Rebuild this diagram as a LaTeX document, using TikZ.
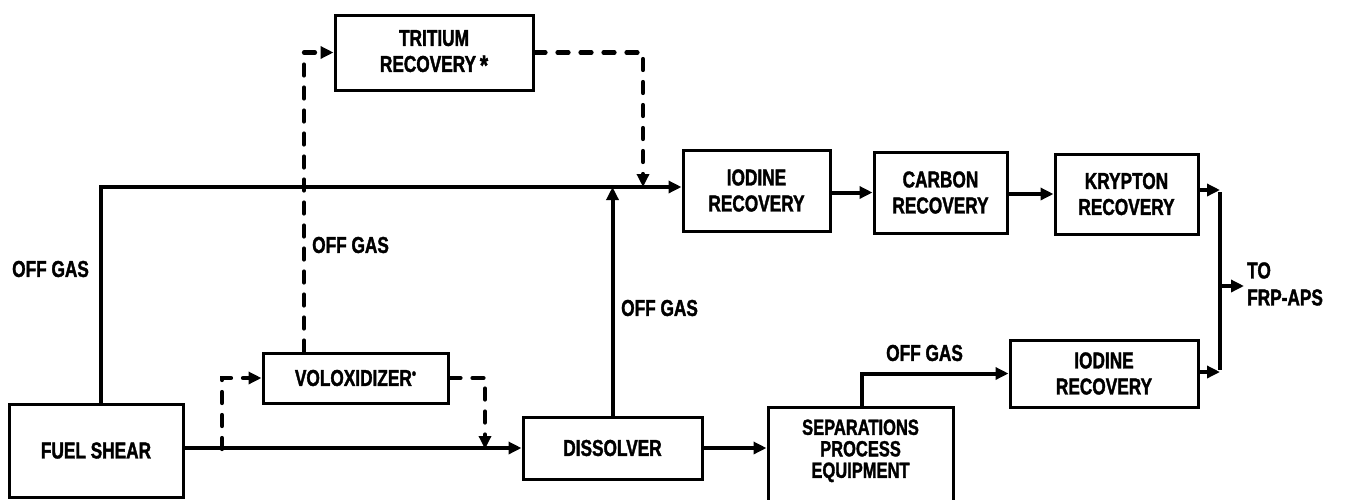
\documentclass[tikz,border=0pt]{standalone}
\usepackage{fontspec}
\setmainfont{Liberation Sans}[FakeStretch=0.75, BoldFeatures={FakeBold=1.5}]
\usetikzlibrary{arrows.meta}
\begin{document}
\begin{tikzpicture}[x=1pt,y=-1pt,
  lab/.style={font=\fontsize{23}{26}\selectfont\bfseries, inner sep=0pt, align=center},
  box/.style={draw, line width=3pt, inner sep=0pt, align=center, font=\fontsize{23}{26}\selectfont\bfseries},
  flow/.style={line width=4pt, -{Triangle[length=13pt,width=12pt]}},
  plain/.style={line width=4pt},
  dflow/.style={line width=4.2pt, line cap=round, dash pattern=on 11pt off 12pt, -{Triangle[length=13pt,width=12pt]}}
]
\fill[white] (0,0) rectangle (1346,499);
\useasboundingbox (0,0) rectangle (1346,499);

% boxes
\node[box, minimum width=198pt, minimum height=75pt] (tritium) at (434,52.5) {TRITIUM\\RECOVERY\,{\fontsize{28}{20}\selectfont\raisebox{-3pt}{*}}};
\node[box, minimum width=147pt, minimum height=81pt] (iodine1) at (756.5,190.5) {IODINE\\RECOVERY};
\node[box, minimum width=133pt, minimum height=81pt] (carbon) at (940.5,192.5) {CARBON\\RECOVERY};
\node[box, minimum width=143pt, minimum height=80pt] (krypton) at (1126.5,194) {KRYPTON\\RECOVERY};
\node[box, minimum width=188pt, minimum height=67pt] (iodine2) at (1104,373.5) {IODINE\\RECOVERY};
\node[box, minimum width=185pt, minimum height=50pt] (volox) at (355.5,378) {VOLOXIDIZER{\raisebox{7pt}{\fontsize{16}{16}\selectfont\textbullet}}};
\node[box, minimum width=174pt, minimum height=93pt] (fuel) at (96,450.5) {FUEL SHEAR};
\node[box, minimum width=179pt, minimum height=62pt] (diss) at (612.5,448) {DISSOLVER};
\node[box, minimum width=185pt, minimum height=103pt, font=\fontsize{22}{21.5}\selectfont\bfseries] (sep) at (860.5,458.5) {\raisebox{0pt}{}\\[-38pt]SEPARATIONS\\PROCESS\\EQUIPMENT};

% labels
\node[lab, anchor=west] (og1) at (12,269) {OFF GAS};
\node[lab, anchor=west] (og2) at (312,245) {OFF GAS};
\node[lab, anchor=west] (og3) at (621,308) {OFF GAS};
\node[lab, anchor=west] (og4) at (886,353) {OFF GAS};
\node[lab, anchor=west, align=left, font=\fontsize{23}{27}\selectfont\bfseries] (to) at (1247,284) {TO\\FRP-APS};

% coordinates
\coordinate (mfs) at (101,187);
\coordinate (td) at (643,187);
\coordinate (vt) at (304,0);
\coordinate (vb) at (222,449);
\coordinate (vc) at (485,449);
\coordinate (sx) at (862,0);
\coordinate (c1) at (1220,190);
\coordinate (c2) at (1220,372);
\coordinate (out) at (1244,286);

% solid connectors
\draw[flow] (fuel.north -| mfs) |- (iodine1.west |- mfs);
\draw[flow] (diss.north) -- (diss.north |- mfs);
\draw[flow] (iodine1.east |- carbon.west) -- (carbon.west);
\draw[flow] (carbon.east |- krypton.west) -- (krypton.west);
\draw[flow] (fuel.east |- diss.west) -- (diss.west);
\draw[flow] (diss.east) -- (sep.west |- diss.east);
\draw[flow] (sep.north -| sx) |- (iodine2.west);
\draw[flow] (krypton.east |- c1) -- (c1);
\draw[flow] (iodine2.east |- c2) -- (c2);
\draw[plain] ([yshift=-2pt]c1) -- ([yshift=2pt]c2);
\draw[flow] (c1 |- out) -- (out);

% dashed connectors
\draw[dflow] (volox.north -| vt) |- (tritium.west);
\draw[dflow] (tritium.east) -| (td);
\draw[dflow] (vb) |- (volox.west);
\draw[dflow] (volox.east) -| (vc);
\end{tikzpicture}
\end{document}
